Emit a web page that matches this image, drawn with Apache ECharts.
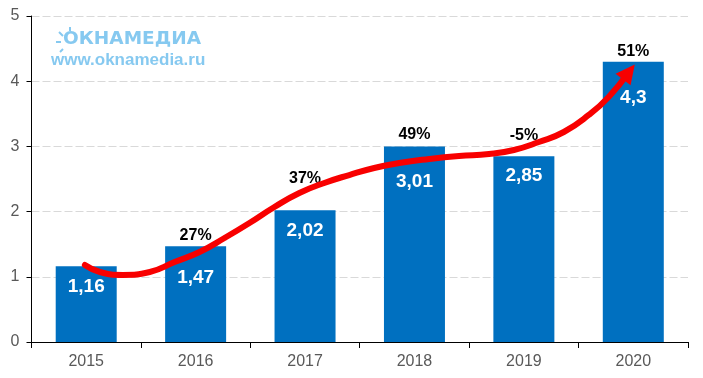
<!DOCTYPE html>
<html><head><meta charset="utf-8">
<style>html,body{margin:0;padding:0;background:#fff}#c{width:703px;height:378px}</style>
<script src="https://cdn.jsdelivr.net/npm/echarts@6/dist/echarts.min.js"></script>
</head><body><div id="c"></div>
<script>
const categories=['2015','2016','2017','2018','2019','2020'];
const values=[1.16,1.47,2.02,3.0,2.85,4.3];
const valueLabels=['1,16','1,47','2,02','3,01','2,85','4,3'];
const valueLabelY=[0.874,1.012,1.733,2.485,2.577,3.773];
const growthLabels=['','27%','37%','49%','-5%','51%'];
const growthLabelY=[null,1.656,2.531,3.206,3.19,4.479];
const curveX=[0.488,0.625,0.834,1.081,1.308,1.536,1.764,1.992,2.22,2.448,2.676,2.904,3.132,3.36,3.634,3.907,4.181,4.409,4.637,4.865,5.093,5.275,5.46];
const curveY=[1.181,1.074,1.028,1.074,1.227,1.38,1.595,1.825,2.071,2.285,2.439,2.561,2.669,2.745,2.807,2.853,2.883,2.945,3.067,3.221,3.482,3.758,4.141];

const font='"Liberation Sans", Arial, sans-serif';
const lightBlue='#86c9f0';
const chart=echarts.init(document.getElementById('c'),null,{renderer:'canvas'});
const rays=[[63,36,59,32],[70,31,70,27],[63,49,60,52],[61,42,56,42]];
chart.setOption({
 animation:false,
 backgroundColor:'#fff',
 grid:{left:31.5,right:15,top:16,bottom:36},
 xAxis:[
  {type:'category',data:categories,axisLine:{lineStyle:{color:'#000',width:1}},
   axisTick:{show:true,length:6,lineStyle:{color:'#000'}},
   axisLabel:{color:'#595959',fontSize:16,fontFamily:font,margin:12},splitLine:{show:false}},
  {type:'value',min:0,max:6,show:false}
 ],
 yAxis:{type:'value',min:0,max:5,interval:1,
  axisLine:{show:true,lineStyle:{color:'#000',width:1}},
  axisTick:{show:true,length:5,lineStyle:{color:'#000'}},
  axisLabel:{color:'#595959',fontSize:16,fontFamily:font,margin:12},
  splitLine:{show:true,lineStyle:{color:'#d9d9d9',type:[8,3],width:1}}},
 graphic:[
  {type:'text',left:63,top:30,z:5,style:{text:'ОКНАМЕДИА',fill:lightBlue,font:'bold 18.5px "DejaVu Sans", sans-serif'}},
  {type:'text',left:51,top:52,z:5,style:{text:'www.oknamedia.ru',fill:lightBlue,font:'bold 17px '+font}},
  ...rays.map(r=>({type:'line',z:5,shape:{x1:r[0],y1:r[1],x2:r[2],y2:r[3]},style:{stroke:lightBlue,lineWidth:2}}))
 ],
 series:[
  {type:'bar',data:values,barWidth:61,itemStyle:{color:'#0070c0'},silent:true,z:2},
  {type:'scatter',data:valueLabelY,symbolSize:0,z:3,silent:true,itemStyle:{opacity:1},
   label:{show:true,position:'inside',offset:[0,2],color:'#fff',fontSize:19,fontWeight:'bold',fontFamily:font,textBorderWidth:0,opacity:1,
    formatter:p=>valueLabels[p.dataIndex]}},
  {type:'scatter',data:growthLabelY,symbolSize:0,z:3,silent:true,itemStyle:{opacity:1},
   label:{show:true,position:'inside',offset:[0,2],color:'#000',fontSize:16,fontWeight:'bold',fontFamily:font,textBorderWidth:0,opacity:1,
    formatter:p=>growthLabels[p.dataIndex]}},
  {type:'line',xAxisIndex:1,yAxisIndex:0,smooth:true,z:4,silent:true,showSymbol:true,
   lineStyle:{color:'#f80000',width:6,cap:'round',join:'round'},
   itemStyle:{color:'#f80000'},
   data:curveX.map((x,i)=>i===curveX.length-1
     ?{value:[x,curveY[i]],symbol:'triangle',symbolSize:[19,19],symbolRotate:-38}
     :{value:[x,curveY[i]],symbol:'none'})}
 ]
});
</script></body></html>
